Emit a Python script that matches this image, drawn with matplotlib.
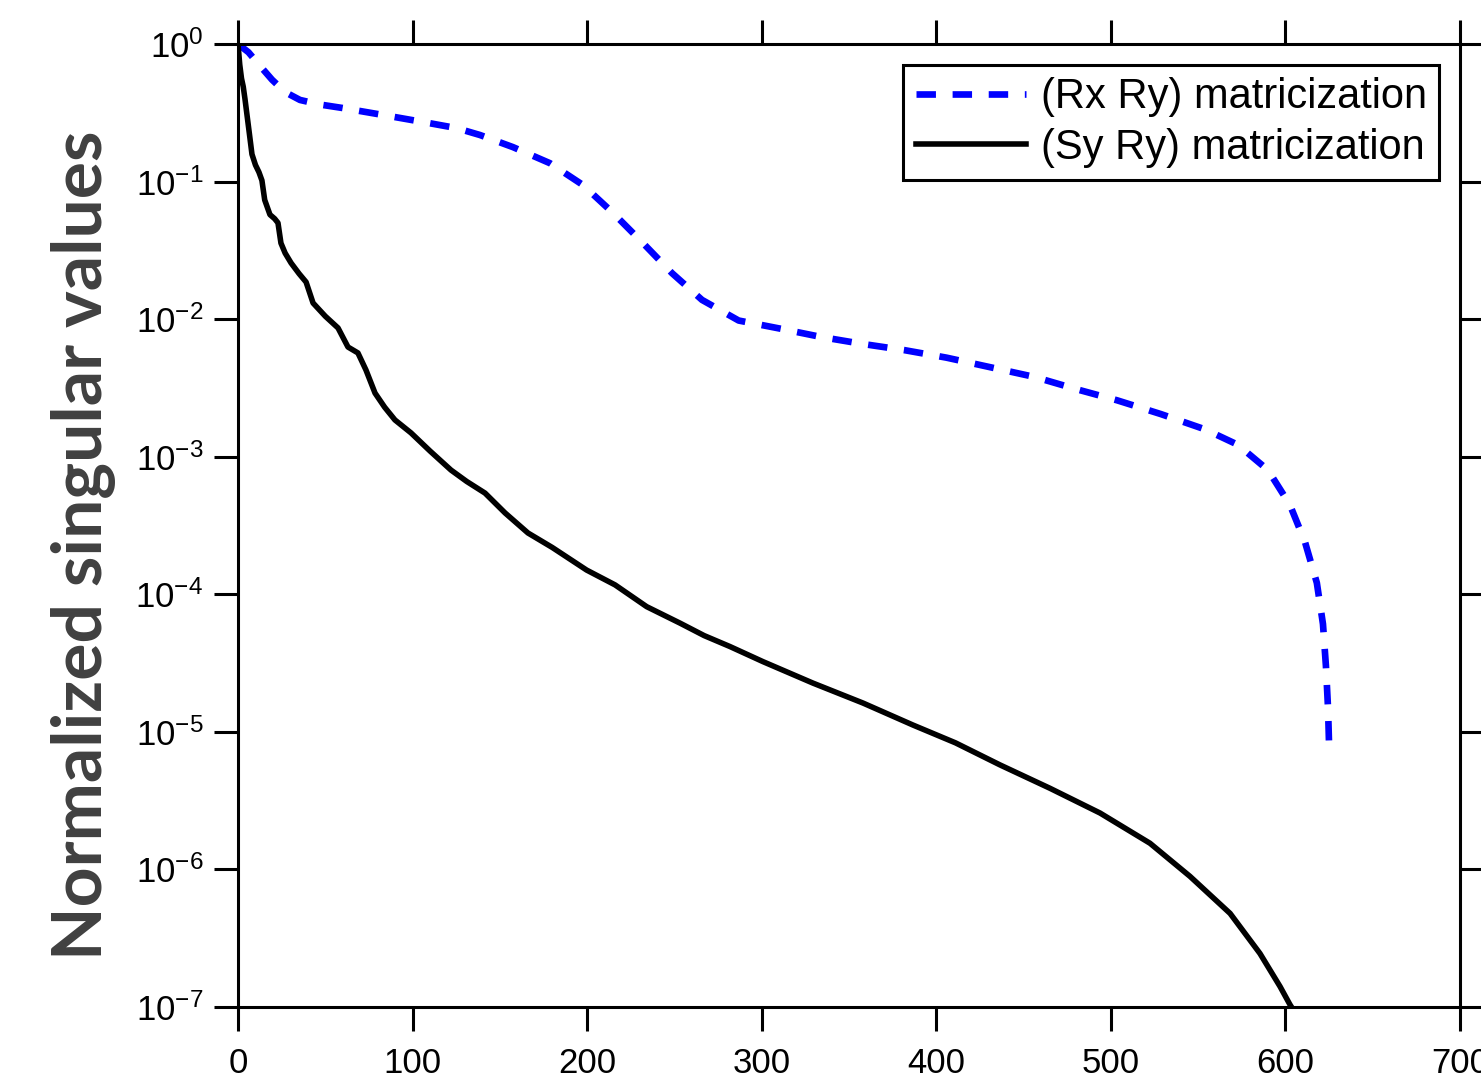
import numpy as np
import matplotlib
matplotlib.use('Agg')
import matplotlib.pyplot as plt
from matplotlib.ticker import FixedLocator, FuncFormatter, NullLocator

# ── 数据─────────────────────────────────────────────────────────────────
rx_ry_idx = [0, 3, 6, 12, 19.5, 27, 35.5, 47, 59.6, 83, 106, 125, 138.6, 157.5,
             178.7, 197.6, 214.8, 232, 248.6, 265.8, 286.8, 311, 334.3, 357.6,
             381.5, 405.8, 431, 456.3, 480.5, 503.6, 528.7, 554, 572.8, 590,
             602.6, 611.2, 618, 621.5, 623.2, 624.4, 625]
rx_ry_sv = [1.0, 0.933, 0.871, 0.708, 0.550, 0.447, 0.392, 0.363, 0.343, 0.305,
            0.271, 0.245, 0.218, 0.178, 0.136, 0.0944, 0.0592, 0.0357, 0.0216,
            0.0138, 9.77e-3, 8.51e-3, 7.41e-3, 6.61e-3, 5.96e-3, 5.25e-3,
            4.47e-3, 3.80e-3, 3.09e-3, 2.57e-3, 2.04e-3, 1.58e-3, 1.22e-3,
            8.0e-4, 4.46e-4, 2.40e-4, 1.21e-4, 6.08e-5, 3.01e-5, 1.49e-5, 8.0e-6]

sy_ry_idx = [0, 1, 2, 3, 4, 5, 6.5, 8, 10, 12, 13.7, 15.3, 18.3, 21, 22.9, 24.6,
             27, 30.4, 35, 39, 43, 50, 57.3, 63, 68.7, 73.3, 78.5, 84, 89.9,
             99.1, 110, 122, 131, 141.5, 153, 166.1, 180, 199.7, 216, 234.1,
             253.2, 267, 281.8, 300.7, 329.4, 358, 386.7, 411, 436.5, 465.1,
             493.8, 522.4, 545.3, 568.3, 585.4, 596.9, 602.6, 606]
sy_ry_sv = [1.0, 0.708, 0.562, 0.490, 0.398, 0.316, 0.224, 0.158, 0.132, 0.117,
            0.102, 0.0735, 0.0575, 0.0537, 0.0501, 0.0357, 0.0302, 0.0256,
            0.0214, 0.0186, 0.0131, 0.0105, 8.63e-3, 6.27e-3, 5.68e-3, 4.27e-3,
            2.90e-3, 2.29e-3, 1.85e-3, 1.49e-3, 1.10e-3, 8.0e-4, 6.61e-4,
            5.44e-4, 3.90e-4, 2.79e-4, 2.19e-4, 1.50e-4, 1.17e-4, 8.13e-5,
            6.17e-5, 5.01e-5, 4.17e-5, 3.24e-5, 2.26e-5, 1.62e-5, 1.12e-5,
            8.32e-6, 5.75e-6, 3.89e-6, 2.57e-6, 1.55e-6, 8.91e-7, 4.79e-7,
            2.45e-7, 1.41e-7, 1.04e-7, 8.9e-8]

x_ticks = [0, 100, 200, 300, 400, 500, 600, 700]
y_exponents = [0, -1, -2, -3, -4, -5, -6, -7]
series_labels = ['(Rx Ry) matricization', '(Sy Ry) matricization']

# ── 样式 ──────────────────────────────────────────────────────────────────────
plt.rcParams['font.family'] = ['Liberation Sans', 'DejaVu Sans']
plt.rcParams['mathtext.fontset'] = 'custom'
plt.rcParams['mathtext.rm'] = 'Liberation Sans'
plt.rcParams['mathtext.it'] = 'Liberation Sans'
plt.rcParams['lines.scale_dashes'] = False

fig = plt.figure(figsize=(14.81, 10.78), dpi=100)
ax = fig.add_axes([238 / 1481, 1 - 1007 / 1078, 1222 / 1481, 963 / 1078])

ax.plot(rx_ry_idx, rx_ry_sv, color='#0000ff', linestyle=(0, (14, 12)),
        linewidth=4.8, label=series_labels[0])
ax.plot(sy_ry_idx, sy_ry_sv, color='black', linestyle='-',
        linewidth=4.0, label=series_labels[1])

ax.set_yscale('log')
ax.set_xlim(0, 700)
ax.set_ylim(1e-7, 1)

ax.xaxis.set_major_locator(FixedLocator(x_ticks))
ax.xaxis.set_minor_locator(NullLocator())
ax.yaxis.set_major_locator(FixedLocator([10.0 ** e for e in y_exponents]))
ax.yaxis.set_minor_locator(NullLocator())
ax.yaxis.set_major_formatter(
    FuncFormatter(lambda v, p: r'$\mathregular{10^{%d}}$' % round(np.log10(v))))

ax.tick_params(which='major', direction='out', length=17, width=2.2,
               top=True, right=True, colors='black')
ax.tick_params(axis='x', pad=12, labelsize=25)
ax.tick_params(axis='y', pad=8, labelsize=25)
for s in ax.spines.values():
    s.set_linewidth(2.2)

ax.set_ylabel('Normalized singular values', fontsize=50, fontweight='bold',
              color='#404040', family=['Liberation Sans Narrow', 'Lato', 'DejaVu Sans'])
ax.yaxis.set_label_coords(-0.10, 0.48)

leg = ax.legend(loc='upper right', fontsize=30, handlelength=2.65,
                handletextpad=0.35, labelspacing=0.25, borderaxespad=0.5,
                borderpad=0.3, fancybox=False, framealpha=1, edgecolor='black')
leg.get_frame().set_linewidth(2.2)

fig.savefig('out.png', dpi=100)
